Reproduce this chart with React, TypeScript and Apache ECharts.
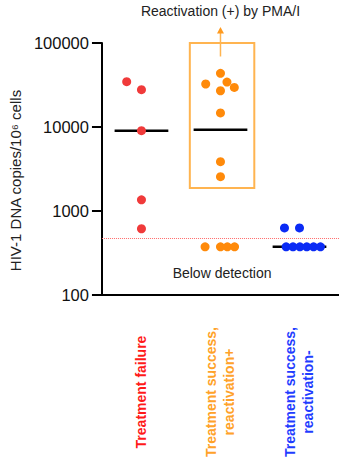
import React, { useEffect, useRef } from "react";
import * as echarts from "echarts";

// ---- data ----
const categories = [
  "Treatment failure",
  "Treatment success,\nreactivation+",
  "Treatment success,\nreactivation-",
];
const categoryColors = ["#FF1A1A", "#FFA229", "#1F3DFF"];
const dotColors = ["#F03A3A", "#FF8A0A", "#0A2BF5"];

const failureValues = [34600, 27800, 9040, 1360, 615];
const failureJitter = [-0.187, 0, 0, 0, 0];

const reactPlusValues = [43500, 32500, 34300, 27000, 29600, 14700, 3860, 2560, 375, 375, 375, 375];
const reactPlusJitter = [0, -0.187, 0.082, 0, 0.175, 0, 0, 0, -0.195, 0, 0.087, 0.178];

const reactMinusValues = [628, 628, 375, 375, 375, 375, 375, 375];
const reactMinusJitter = [-0.19, 0, -0.169, -0.082, 0.005, 0.092, 0.178, 0.265];

const medians = [9040, 9280, 375];
const detectionLimit = 470;
const yTicks = [100, 1000, 10000, 100000];

// reactivation box (data coords on hidden value x axis)
const boxX = [1.112, 1.928];
const boxY = [100000, 1880];

const FONT = '"Liberation Sans", Arial, Helvetica, sans-serif';

function pts(values: number[], jitter: number[], idx: number) {
  return values.map((v, i) => [idx + 0.5 + jitter[i], v]);
}

export default function App() {
  const ref = useRef<HTMLDivElement>(null);
  useEffect(() => {
    if (!ref.current) return;
    const chart = echarts.init(ref.current, null, { renderer: "svg" });
    const groups = [
      pts(failureValues, failureJitter, 0),
      pts(reactPlusValues, reactPlusJitter, 1),
      pts(reactMinusValues, reactMinusJitter, 2),
    ];
    const medianSeries = medians.map((m, i) => ({
      type: "line",
      xAxisIndex: 1,
      yAxisIndex: 0,
      data: [
        [i + 0.5 - 0.34, m],
        [i + 0.5 + 0.34, m],
      ],
      showSymbol: false,
      symbol: "none",
      silent: true,
      lineStyle: { color: "#000", width: 2.5 },
      z: 2,
    }));
    const scatterSeries = groups.map((g, i) => ({
      type: "scatter",
      xAxisIndex: 1,
      yAxisIndex: 0,
      data: g,
      symbolSize: 9,
      silent: true,
      itemStyle: { color: dotColors[i], opacity: 1 },
      z: 3,
      ...(i === 0
        ? {
            markLine: {
              silent: true,
              symbol: ["none", "none"],
              label: { show: false },
              lineStyle: { type: "dotted", color: "#FF6B6B", width: 1 },
              data: [{ yAxis: detectionLimit }],
            },
          }
        : {}),
      ...(i === 1
        ? {
            markArea: {
              silent: true,
              itemStyle: {
                color: "rgba(0,0,0,0)",
                borderColor: "#FFB450",
                borderWidth: 2,
              },
              data: [
                [
                  { coord: [boxX[0], boxY[0]] },
                  { coord: [boxX[1], boxY[1]] },
                ],
              ],
            },
          }
        : {}),
    }));

    chart.setOption({
      animation: false,
      textStyle: { fontFamily: FONT },
      grid: { left: 95, top: 43, width: 249, height: 252, containLabel: false },
      xAxis: [
        {
          type: "category",
          data: categories,
          boundaryGap: true,
          axisLine: { lineStyle: { color: "#000", width: 2 } },
          axisTick: { alignWithLabel: true, length: 7, lineStyle: { color: "#000", width: 2 } },
          axisLabel: {
            interval: 0,
            rotate: 90,
            margin: 97,
            align: "center",
            verticalAlign: "middle",
            fontFamily: FONT,
            fontSize: 14,
            fontWeight: "bold",
            lineHeight: 18,
            color: (_v: any, idx: number) => categoryColors[idx],
          },
          splitLine: { show: false },
        },
        {
          type: "value",
          min: 0,
          max: 3,
          show: false,
        },
      ],
      yAxis: {
        type: "log",
        logBase: 10,
        min: yTicks[0],
        max: yTicks[yTicks.length - 1],
        name: "HIV-1 DNA copies/10⁶ cells",
        nameLocation: "middle",
        nameGap: 67,
        nameTextStyle: {
          fontFamily: FONT,
          fontSize: 15,
          color: "#222",
          padding: [0, 23, 0, 0],
        },
        axisLine: { show: true, lineStyle: { color: "#000", width: 2 } },
        axisTick: { show: true, length: 10, lineStyle: { color: "#000", width: 2 } },
        axisLabel: {
          margin: 13,
          fontFamily: FONT,
          fontSize: 16.5,
          color: "#111",
          formatter: (v: number) => String(Math.round(v)),
        },
        splitLine: { show: false },
        minorTick: { show: false },
      },
      series: [...medianSeries, ...scatterSeries],
    });

    const top = chart.convertToPixel({ seriesIndex: 4 }, [1.5, boxY[0]]) as number[];
    const below = chart.convertToPixel({ seriesIndex: 4 }, [1.52, 185]) as number[];
    const ax = top[0];
    const ay = top[1];
    chart.setOption({
      graphic: [
        {
          type: "text",
          x: 220.5,
          y: 11,
          style: {
            text: "Reactivation (+) by PMA/I",
            textAlign: "center",
            textVerticalAlign: "middle",
            fontFamily: FONT,
            fontSize: 14,
            fill: "#222",
          },
        },
        {
          type: "line",
          shape: { x1: ax, y1: ay + 13.5, x2: ax, y2: ay - 10 },
          style: { stroke: "#FFB450", lineWidth: 1.5 },
        },
        {
          type: "polygon",
          shape: {
            points: [
              [ax, ay - 16],
              [ax - 3.5, ay - 9.5],
              [ax + 3.5, ay - 9.5],
            ],
          },
          style: { fill: "#FF9A1F" },
        },
        {
          type: "text",
          x: below[0],
          y: below[1],
          style: {
            text: "Below detection",
            textAlign: "center",
            textVerticalAlign: "middle",
            fontFamily: FONT,
            fontSize: 14,
            fill: "#222",
          },
        },
      ],
    });

    return () => chart.dispose();
  }, []);
  return (
    <div
      ref={ref}
      style={{ position: "fixed", left: 0, top: 0, width: 339, height: 464, background: "#fff" }}
    />
  );
}
